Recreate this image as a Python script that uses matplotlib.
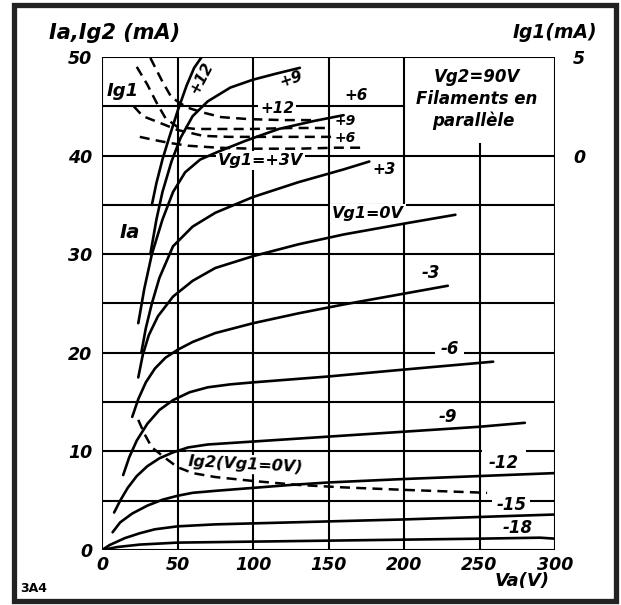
import matplotlib.pyplot as plt
from matplotlib.patches import Rectangle

# 3A4 pentode, anode characteristics (Va in V, currents in mA)
# Ia curves, one per Vg1
va_p12 = [33, 36, 40, 44, 50, 56, 61, 66]
ia_p12 = [35, 37.2, 39.6, 41.6, 44.5, 47.1, 48.9, 50]
va_p9 = [32, 36, 40, 46, 52, 60, 70, 85, 100, 115, 131]
ia_p9 = [30, 33.5, 36.3, 39.4, 41.8, 44.0, 45.5, 46.9, 47.7, 48.3, 48.9]
va_p6 = [24, 28, 33, 40, 47, 55, 65, 77, 95, 117, 140, 160]
ia_p6 = [23, 26.5, 30.0, 33.5, 36.3, 38.3, 39.6, 40.4, 41.5, 42.7, 43.5, 44.1]
va_p3 = [26, 29, 33, 38, 47, 60, 75, 100, 130, 160, 177]
ia_p3 = [20, 22.5, 25.0, 27.6, 30.8, 32.8, 34.2, 35.8, 37.3, 38.6, 39.4]
va_0 = [24, 27, 31, 37, 47, 60, 75, 100, 130, 160, 200, 234]
ia_0 = [17.5, 19.8, 21.8, 23.7, 25.7, 27.3, 28.6, 29.8, 31.0, 32.0, 33.1, 34.0]
va_m3 = [20, 24, 29, 35, 42, 50, 60, 75, 100, 130, 160, 200, 229]
ia_m3 = [13.5, 15.3, 17.0, 18.4, 19.5, 20.3, 21.1, 22.0, 23.0, 24.0, 24.9, 26.0, 26.8]
va_m6 = [14, 18, 23, 30, 38, 47, 58, 70, 85, 100, 150, 200, 259]
ia_m6 = [7.6, 9.4, 11.1, 12.8, 14.2, 15.2, 16.0, 16.5, 16.8, 17.0, 17.6, 18.3, 19.1]
va_m9 = [8, 12, 17, 23, 30, 38, 47, 57, 70, 100, 150, 200, 250, 280]
ia_m9 = [3.8, 5.0, 6.3, 7.5, 8.5, 9.3, 9.9, 10.4, 10.7, 11.0, 11.5, 12.0, 12.5, 12.9]
va_m12 = [7, 12, 20, 30, 40, 50, 60, 75, 100, 125, 150, 200, 250, 300]
ia_m12 = [1.8, 2.8, 3.7, 4.5, 5.1, 5.5, 5.8, 6.0, 6.3, 6.6, 6.85, 7.2, 7.5, 7.8]
va_m15 = [0, 5, 15, 25, 35, 50, 75, 100, 150, 200, 250, 300]
ia_m15 = [0, 0.5, 1.2, 1.7, 2.1, 2.4, 2.6, 2.7, 2.9, 3.1, 3.35, 3.6]
va_m18 = [0, 10, 25, 50, 100, 150, 200, 250, 290, 300]
ia_m18 = [0, 0.3, 0.55, 0.75, 0.85, 0.95, 1.05, 1.15, 1.25, 1.15]

# screen current at Vg1 = 0V
va_g2 = [24, 28, 33, 38, 43, 50, 60, 75, 100, 130, 160, 200, 255]
ig2 = [13.2, 11.8, 10.4, 9.8, 9.2, 8.4, 7.8, 7.4, 7.0, 6.6, 6.35, 6.1, 5.8]

# grid 1 current (right scale)
va_g1_p12 = [32, 40, 46, 56, 66, 79, 97, 120, 143]
ig1_p12 = [4.95, 3.75, 2.95, 2.45, 2.2, 1.95, 1.85, 1.8, 1.8]
va_g1_p9 = [23, 30, 36, 42, 50, 62, 76, 100, 125, 150]
ig1_p9 = [4.5, 3.6, 2.7, 1.9, 1.45, 1.35, 1.35, 1.35, 1.4, 1.4]
va_g1_p6 = [21, 27, 37, 50, 67, 84, 110, 135, 155]
ig1_p6 = [2.5, 2.0, 1.7, 1.3, 1.0, 0.95, 0.95, 0.95, 0.95]
va_g1_p3 = [25, 34, 44, 57, 77, 99, 130, 155, 175]
ig1_p3 = [0.95, 0.8, 0.65, 0.5, 0.4, 0.35, 0.35, 0.4, 0.4]

va_ticks = [0, 50, 100, 150, 200, 250, 300]
ia_ticks = [0, 10, 20, 30, 40, 50]
ig1_ticks = [0, 5]
grid_v = [0, 50, 100, 150, 200, 300]
grid_h = [0, 5, 10, 15, 20, 25, 30, 35, 40, 50]

txt = dict(fontstyle='italic', fontweight='bold', color='k')
wbox = dict(facecolor='white', edgecolor='none', pad=1.5)

fig = plt.figure(figsize=(6.21, 6.05), dpi=100)
ax = fig.add_axes([0.1643, 0.0909, 0.7295, 0.8149])
ax.set_xlim(0, 300)
ax.set_ylim(0, 50)
for s in ax.spines.values():
    s.set_visible(False)

# grid, a few lines are cut short like on the sheet
ax.vlines(grid_v, 0, 50, color='k', lw=1.5, zorder=1)
ax.vlines(250, 0, 41.3, color='k', lw=1.5, zorder=1)
ax.hlines(grid_h, 0, 300, color='k', lw=1.5, zorder=1)
ax.hlines(45, 0, 200, color='k', lw=1.5, zorder=1)

solid = [(va_p12, ia_p12), (va_p9, ia_p9), (va_p6, ia_p6), (va_p3, ia_p3),
         (va_0, ia_0), (va_m3, ia_m3), (va_m6, ia_m6), (va_m9, ia_m9),
         (va_m12, ia_m12), (va_m15, ia_m15), (va_m18, ia_m18)]
for va, ia in solid:
    ax.plot(va, ia, color='k', lw=1.9, zorder=4, solid_capstyle='round')
ax.plot(va_g2, ig2, color='k', lw=1.8, ls=(0, (4, 2.5)), zorder=4)

ax.set_xticks(va_ticks)
ax.set_xticklabels([str(v) for v in va_ticks], fontsize=12.5, **txt)
ax.set_yticks(ia_ticks)
ax.set_yticklabels([str(v) for v in ia_ticks], fontsize=12.5, **txt)
ax.tick_params(axis='x', length=0, pad=4)
ax.tick_params(axis='y', length=0, pad=7)

ax2 = ax.twinx()
ax2.set_ylim(-20, 5)
for s in ax2.spines.values():
    s.set_visible(False)
for va, ig in [(va_g1_p12, ig1_p12), (va_g1_p9, ig1_p9),
               (va_g1_p6, ig1_p6), (va_g1_p3, ig1_p3)]:
    ax2.plot(va, ig, color='k', lw=1.8, ls=(0, (4, 2.5)))
ax2.set_yticks(ig1_ticks)
ax2.set_yticklabels([str(v) for v in ig1_ticks], fontsize=12.5, **txt)
ax2.tick_params(axis='y', length=0, pad=13)

# curve labels
ax.text(65.5, 47.9, '+12', fontsize=11, rotation=62, ha='center', va='center', zorder=3, **txt)
ax.text(125.5, 47.8, '+9', fontsize=11, rotation=18, ha='center', va='center', zorder=3, **txt)
ax.text(116, 44.8, '+12', fontsize=11, ha='center', va='center', bbox=wbox, zorder=3, **txt)
ax.text(168, 46.1, '+6', fontsize=11, ha='center', va='center', zorder=3, **txt)
ax.text(161, 43.5, '+9', fontsize=10, ha='center', va='center', zorder=3, **txt)
ax.text(161, 41.8, '+6', fontsize=10, ha='center', va='center', zorder=3, **txt)
ax.text(105, 39.5, 'Vg1=+3V', fontsize=11.5, ha='center', va='center', bbox=wbox, zorder=3, **txt)
ax.text(187, 38.6, '+3', fontsize=11, ha='center', va='center', zorder=3, **txt)
ax.text(176, 34.1, 'Vg1=0V', fontsize=11.5, ha='center', va='center', bbox=wbox, zorder=3, **txt)
ax.text(218, 28.1, '-3', fontsize=12, ha='center', va='center', zorder=3, **txt)
ax.text(230, 20.4, '-6', fontsize=12, ha='center', va='center', bbox=dict(facecolor='white', edgecolor='none', pad=4), zorder=3, **txt)
ax.text(229, 13.5, '-9', fontsize=12, ha='center', va='center', zorder=3, **txt)
ax.text(266, 8.8, '-12', fontsize=12, ha='center', va='center', bbox=dict(facecolor='white', edgecolor='none', pad=5), zorder=3, **txt)
ax.text(271, 4.6, '-15', fontsize=12, ha='center', va='center', bbox=dict(facecolor='white', edgecolor='none', pad=3), zorder=3, **txt)
ax.text(275, 2.2, '-18', fontsize=12, ha='center', va='center', zorder=3, **txt)
ax.text(18.5, 32.2, 'Ia', fontsize=14, ha='center', va='center', zorder=3, **txt)
ax.text(14, 46.6, 'Ig1', fontsize=13, ha='center', va='center', zorder=3, **txt)
ax.text(95, 8.7, 'Ig2(Vg1=0V)', fontsize=11.5, rotation=-3, ha='center', va='center', bbox=wbox, zorder=3, **txt)
ax.text(248, 48.0, 'Vg2=90V', fontsize=12, ha='center', va='center', zorder=3, **txt)
ax.text(248, 45.7, 'Filaments en', fontsize=12, ha='center', va='center', zorder=3, **txt)
ax.text(246, 43.5, 'parallèle', fontsize=12, ha='center', va='center', zorder=3, **txt)

fig.text(0.185, 0.945, 'Ia,Ig2 (mA)', fontsize=15, ha='center', va='center', **txt)
fig.text(0.894, 0.947, 'Ig1(mA)', fontsize=13.5, ha='center', va='center', **txt)
fig.text(0.840, 0.040, 'Va(V)', fontsize=13, ha='center', va='center', **txt)
fig.text(0.033, 0.028, '3A4', fontsize=9, fontweight='bold', ha='left', va='center')

fig.patches.append(Rectangle((0.0233, 0.0066), 0.9687, 0.9844, transform=fig.transFigure,
                             fill=False, edgecolor='#222222', lw=3.8))

fig.savefig('out.png', dpi=100)
